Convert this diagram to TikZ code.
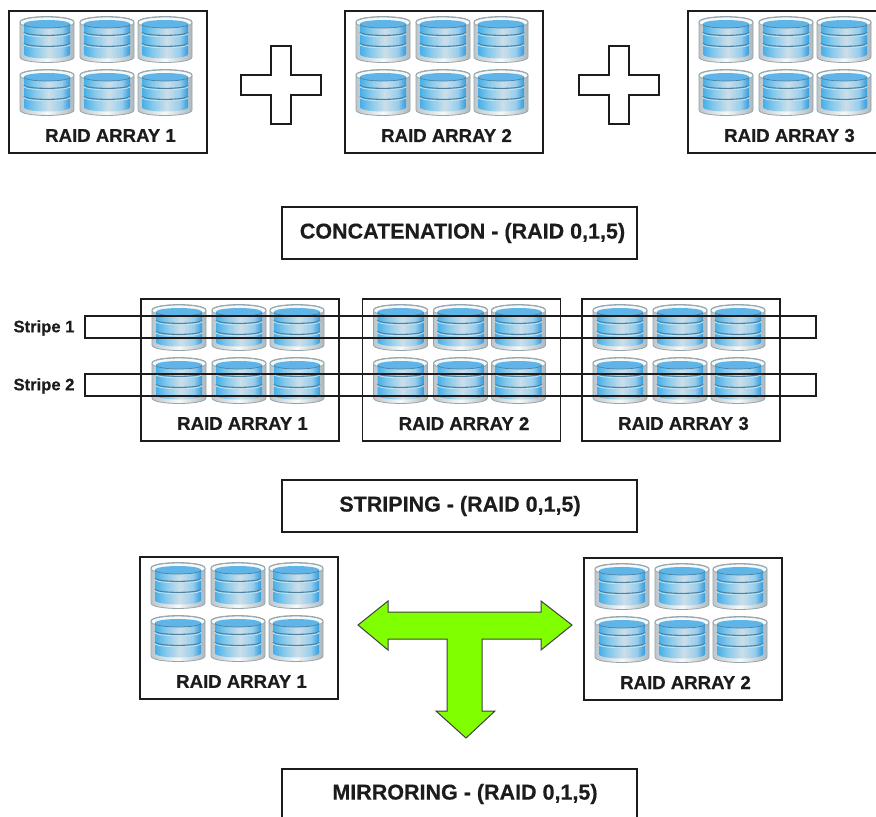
\documentclass[tikz,border=0pt]{standalone}
\usepackage{fontspec}
\setmainfont[BoldFeatures={FakeBold=0.5}]{Liberation Sans}
\definecolor{ink}{HTML}{1C1C1C}
\definecolor{limefill}{HTML}{80FF00}
\definecolor{ba}{RGB}{70,175,232}
\definecolor{bb}{RGB}{130,200,236}
\definecolor{bc}{RGB}{205,222,232}
\definecolor{bd}{RGB}{150,205,236}
\definecolor{be}{RGB}{50,155,222}
\definecolor{sa}{RGB}{188,198,204}
\definecolor{sb}{RGB}{246,249,249}
\definecolor{sc}{RGB}{172,184,190}
\definecolor{diskrim}{RGB}{150,165,172}
\definecolor{disktop}{RGB}{95,180,232}
\definecolor{bandline}{RGB}{80,130,160}
\definecolor{bandlight}{RGB}{190,228,245}
\pgfdeclarehorizontalshading{diskbody}{100bp}{
 color(0bp)=(ba);
 color(25bp)=(ba);
 color(36bp)=(bb);
 color(52bp)=(bc);
 color(66bp)=(bd);
 color(75bp)=(be);
 color(100bp)=(be)}
\pgfdeclarehorizontalshading{diskshell}{100bp}{
 color(0bp)=(sa);
 color(25bp)=(sa);
 color(50bp)=(sb);
 color(75bp)=(sc);
 color(100bp)=(sc)}
\tikzset{
 x=1pt,y=-1pt,
 arraybox/.style={draw=ink,line width=1.5pt,fill=white,minimum width=198pt,minimum height=142pt,inner sep=0pt,anchor=north west},
 titlebox/.style={draw=ink,line width=1.5pt,fill=white,minimum width=355pt,minimum height=52pt,inner sep=0pt,anchor=north west},
 stripebox/.style={draw=ink,line width=1.7pt,minimum width=731pt,minimum height=22pt,inner sep=0pt,anchor=north west},
 bigtext/.style={font=\fontsize{18.6}{20}\selectfont\bfseries,text=ink,inner sep=0pt},
 titletext/.style={font=\fontsize{21.5}{23}\selectfont\bfseries,text=ink,inner sep=0pt},
 stripetext/.style={font=\fontsize{16.6}{18}\selectfont\bfseries,text=ink,inner sep=0pt},
 plusshape/.style={draw=ink,line width=1.5pt,fill=white,line join=miter},
 bigarrow/.style={draw=black!75,line width=1pt,fill=limefill,line join=miter},
 disk/.pic={
  \path[shading=diskshell,draw=diskrim,line width=.8pt]
    (-27,5) -- (-27,40) .. controls (-27,47.3) and (27,47.3) .. (27,40) -- (27,5)
    .. controls (27,-2.3) and (-27,-2.3) .. (-27,5) -- cycle;
  \path[fill=sb,draw=diskrim,line width=.8pt] (-27,5.5) .. controls (-27,-1.8) and (27,-1.8) .. (27,5.5)
    .. controls (27,12.8) and (-27,12.8) .. (-27,5.5) -- cycle;
  \path[shading=diskbody]
    (-23,7) -- (23,7) -- (23,37) .. controls (23,43) and (-23,43) .. (-23,37) -- cycle;
  \path[fill=disktop] (-23,7) .. controls (-23,1.7) and (23,1.7) .. (23,7) .. controls (23,12.3) and (-23,12.3) .. (-23,7) -- cycle;
  \foreach \yy in {15,26}{
   \draw[bandline,line width=1.1pt] (-23,\yy) .. controls (-23,\yy+4.5) and (23,\yy+4.5) .. (23,\yy);
   \draw[bandlight,line width=.8pt] (-23,\yy+1.4) .. controls (-23,\yy+5.9) and (23,\yy+5.9) .. (23,\yy+1.4);
  }
  \draw[bandline,line width=.7pt] (-23,7) .. controls (-23,12.3) and (23,12.3) .. (23,7);
 }
}
\newcommand{\raidarray}[4]{% name, x, y, label
 \node[arraybox] (#1) at (#2,#3) {};
 \foreach \dx in {39,99,157}{
  \pic at (#2+\dx,#3+7) {disk};
  \pic at (#2+\dx,#3+60) {disk};
 }
 \node[bigtext] (#1t) at (#2+102.5,#3+125.5) {#4};
}
\newcommand{\plussign}[2]{%
 \draw[plusshape] (#1-10,#2-39)--(#1+10,#2-39)--(#1+10,#2-10)--(#1+40,#2-10)--(#1+40,#2+10)
  --(#1+10,#2+10)--(#1+10,#2+39)--(#1-10,#2+39)--(#1-10,#2+10)--(#1-40,#2+10)--(#1-40,#2-10)--(#1-10,#2-10)--cycle;
}
\begin{document}
\begin{tikzpicture}
\clip (0,0) rectangle (876,817);
\fill[white] (0,0) rectangle (876,817);
\raidarray{topa}{8}{10}{RAID ARRAY 1}
\raidarray{topb}{344}{10}{RAID ARRAY 2}
\raidarray{topc}{687}{10}{RAID ARRAY 3}
\plussign{281}{85}
\plussign{619}{85}
\node[titlebox] (concat) at (281,206) {};
\node[titletext] (concatt) at (462.5,233) {CONCATENATION - (RAID 0,1,5)};
\raidarray{stra}{140}{298}{RAID ARRAY 1}
\raidarray{strb}{361.5}{298}{RAID ARRAY 2}
\raidarray{strc}{581}{298}{RAID ARRAY 3}
\node[stripebox] (sone) at (84,315) {};
\node[stripebox] (stwo) at (84,373) {};
\node[stripetext] (sonet) at (44,328) {Stripe 1};
\node[stripetext] (stwot) at (44,386) {Stripe 2};
\node[titlebox] (striping) at (281,479) {};
\node[titletext] (stripingt) at (460,506) {STRIPING - (RAID 0,1,5)};
\raidarray{mira}{139}{556}{RAID ARRAY 1}
\raidarray{mirb}{583}{557}{RAID ARRAY 2}
\draw[bigarrow] (358,625)--(388,601)--(388,612)--(541,612)--(541,601)--(572,625)--(541,650)--(541,639)
 --(482,639)--(482,711)--(495,711)--(466,738)--(436,711)--(447,711)--(447,639)--(388,639)--(388,650)--cycle;
\node[titlebox] (mirror) at (281,768) {};
\node[titletext] (mirrort) at (465,794) {MIRRORING - (RAID 0,1,5)};
\end{tikzpicture}
\end{document}
